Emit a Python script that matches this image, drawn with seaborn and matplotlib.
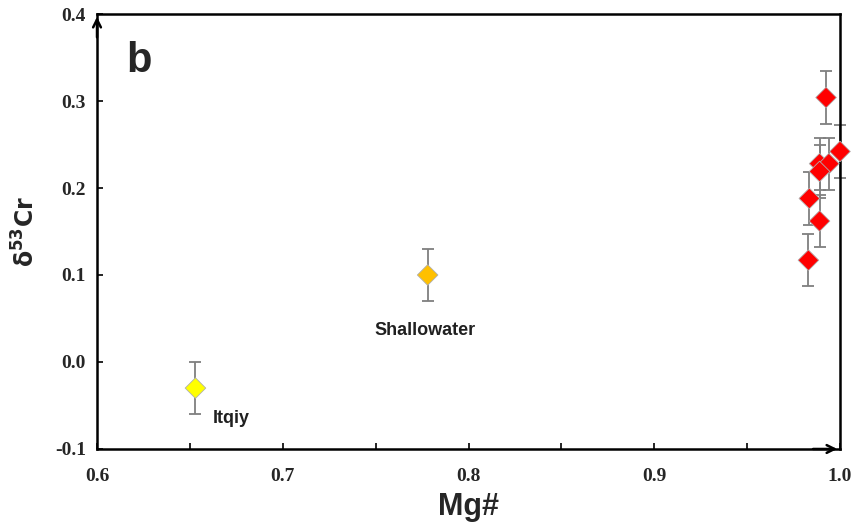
import matplotlib
matplotlib.use("Agg")
import matplotlib.pyplot as plt
import seaborn as sns
import pandas as pd
from matplotlib.ticker import MultipleLocator

# Data
names = ["Itqiy", "Shallowater", "R1", "R2", "R3", "R4", "R5", "R6", "R7", "R8"]
groups = ["Itqiy", "Shallowater", "Other", "Other", "Other", "Other", "Other", "Other", "Other", "Other"]
mg = [0.653, 0.778, 0.9925, 1.000, 0.989, 0.994, 0.989, 0.9835, 0.989, 0.983]
d53cr = [-0.030, 0.100, 0.304, 0.242, 0.228, 0.228, 0.219, 0.188, 0.162, 0.117]
err = [0.030, 0.030, 0.030, 0.030, 0.030, 0.030, 0.030, 0.030, 0.030, 0.030]
palette = {"Itqiy": "#FFFF00", "Shallowater": "#FFC000", "Other": "#FF0000"}
xticks = [0.6, 0.7, 0.8, 0.9, 1.0]
yticks = [-0.1, 0.0, 0.1, 0.2, 0.3, 0.4]

df = pd.DataFrame({"name": names, "group": groups, "mg": mg, "d53cr": d53cr, "err": err})

sns.set_style("white")
fig = plt.figure(figsize=(8.54, 5.25), dpi=100)
ax = fig.add_axes([0.1136, 0.1448, 0.8700, 0.8285])

eb = ax.errorbar(df["mg"], df["d53cr"], yerr=df["err"], fmt="none", ecolor="#7f7f7f",
                 elinewidth=1.3, capsize=4, capthick=1.3, zorder=2)
for art in eb.lines[1] + eb.lines[2]:
    art.set_clip_on(False)
sns.scatterplot(data=df, x="mg", y="d53cr", hue="group", palette=palette, marker="D",
                s=110, edgecolor="#b0b0b0", linewidth=0.6, legend=False, ax=ax, zorder=3,
                clip_on=False)

ax.set_xlim(0.6, 1.0)
ax.set_ylim(-0.1, 0.4)
ax.set_xticks(xticks)
ax.set_yticks(yticks)
ax.xaxis.set_minor_locator(MultipleLocator(0.05))
ax.set_xticklabels([f"{v:.1f}" for v in xticks])
ax.set_yticklabels([f"{v:.1f}" for v in yticks])
ax.tick_params(axis="both", which="both", direction="in", length=4, width=1.2, color="black",
               top=False, right=False, bottom=True, left=True)
ax.tick_params(axis="x", which="major", pad=14)
ax.tick_params(axis="y", which="major", pad=8)
for lab in ax.get_xticklabels() + ax.get_yticklabels():
    lab.set_fontfamily("Liberation Serif")
    lab.set_fontweight("bold")
    lab.set_fontsize(14)
for sp in ax.spines.values():
    sp.set_color("black")
    sp.set_linewidth(1.8)

ax.set_xlabel("Mg#", fontsize=22, fontweight="bold", fontfamily="Liberation Sans", labelpad=5)
ax.set_ylabel(r"$\mathbf{\delta^{53}Cr}$", fontsize=17, fontweight="bold", labelpad=11)

# arrowheads on axes
ax.annotate("", xy=(0, 1.0), xytext=(0, 0.94), xycoords="axes fraction",
            arrowprops=dict(arrowstyle="->", color="black", lw=1.8, mutation_scale=14))
ax.annotate("", xy=(1.0, 0), xytext=(0.96, 0), xycoords="axes fraction",
            arrowprops=dict(arrowstyle="->", color="black", lw=1.8, mutation_scale=14))

# point labels
for _, r in df.iterrows():
    if r["group"] == "Itqiy":
        ax.annotate(r["name"], (r["mg"], r["d53cr"]), xytext=(17, -30),
                    textcoords="offset pixels", fontsize=13, fontweight="bold",
                    fontfamily="Liberation Sans", color="#202020", ha="left", va="center")
    elif r["group"] == "Shallowater":
        ax.annotate(r["name"], (r["mg"], r["d53cr"]), xytext=(-3, -56),
                    textcoords="offset pixels", fontsize=13, fontweight="bold",
                    fontfamily="Liberation Sans", color="#202020", ha="center", va="center")

ax.text(0.04, 0.892, "b", transform=ax.transAxes, fontsize=30, fontweight="bold",
        fontfamily="Liberation Sans", va="center")

fig.savefig("out.png", dpi=100)
